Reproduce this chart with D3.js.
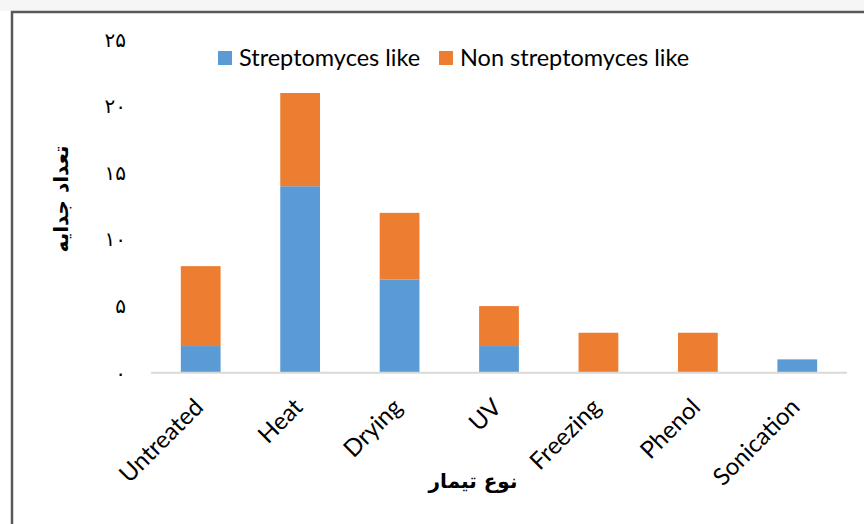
<!DOCTYPE html>
<html>
<head>
<meta charset="utf-8">
<script src="https://cdn.jsdelivr.net/npm/d3@7/dist/d3.min.js"></script>
<style>
  html, body { margin: 0; padding: 0; background: #fff; }
  svg { display: block; }
</style>
</head>
<body>
<svg id="chart" width="864" height="524"></svg>
<script>
// Treatments and isolate counts per group
const categories = ["Untreated", "Heat", "Drying", "UV", "Freezing", "Phenol", "Sonication"];
const streptomycesLike = [2, 14, 7, 2, 0, 0, 1];
const nonStreptomycesLike = [6, 7, 5, 3, 3, 3, 0];
const seriesNames = ["Streptomyces like", "Non streptomyces like"];
const seriesColors = ["#5b9bd5", "#ed7d31"];
const yTicks = [0, 5, 10, 15, 20, 25];
const yTickLabels = ["۰", "۵", "۱۰", "۱۵", "۲۰", "۲۵"];
const yTitle = "تعداد جدایه";
const xTitle = "نوع تیمار";

const svg = d3.select("#chart");
const W = 864, H = 524;
const latin = "Lato";

// faint strip above the frame
svg.append("rect").attr("x", 0).attr("y", 0).attr("width", W).attr("height", 11).attr("fill", "#f6f6f6");
// outer frame
svg.append("path")
  .attr("d", `M12,${H} L12,12 L${W},12`)
  .attr("fill", "none").attr("stroke", "#595959").attr("stroke-width", 2.5);

const margin = { left: 151, right: 17 };
const plotW = W - margin.left - margin.right;
const y0 = 372.7, yTop = 39.7;

const x = d3.scaleBand().domain(categories).range([margin.left, margin.left + plotW]).paddingInner(0.6).paddingOuter(0.3);
const y = d3.scaleLinear().domain([0, 25]).range([y0, yTop]);

const rows = categories.map((c, i) => ({ cat: c, s0: streptomycesLike[i], s1: nonStreptomycesLike[i] }));
const stacked = d3.stack().keys(["s0", "s1"])(rows);

svg.append("g").selectAll("g.series").data(stacked).join("g")
  .attr("class", "series")
  .attr("fill", (d, i) => seriesColors[i])
  .selectAll("rect").data(d => d).join("rect")
  .attr("x", d => x(d.data.cat))
  .attr("width", x.bandwidth())
  .attr("y", d => y(d[1]))
  .attr("height", d => y(d[0]) - y(d[1]));

// baseline
svg.append("line")
  .attr("x1", margin.left).attr("x2", margin.left + plotW)
  .attr("y1", y(0)).attr("y2", y(0))
  .attr("stroke", "#d9d9d9").attr("stroke-width", 2);

// y axis labels (Persian digits)
const yAxis = d3.axisLeft(y).tickValues(yTicks).tickSize(0).tickPadding(0)
  .tickFormat((d, i) => yTickLabels[i]);
const ya = svg.append("g").attr("transform", "translate(126,0)").call(yAxis);
ya.select(".domain").remove();
ya.selectAll("text").attr("font-family", "DejaVu Sans").attr("font-size", 20).attr("fill", "#000");

// x axis labels, rotated
const xAxis = d3.axisBottom(x).tickSize(0).tickPadding(0);
const xa = svg.append("g").attr("transform", `translate(0,${y0})`).call(xAxis);
xa.select(".domain").remove();
xa.selectAll("text")
  .attr("font-family", latin).attr("font-size", 24).attr("fill", "#000")
  .attr("text-anchor", "end")
  .attr("dy", "0.35em")
  .attr("transform", "translate(-2,30) rotate(-45)");

// axis titles
svg.append("text")
  .attr("transform", "translate(61,199) rotate(-90)")
  .attr("text-anchor", "middle").attr("dy", "0.35em")
  .attr("font-family", "DejaVu Sans").attr("font-weight", "bold").attr("font-size", 20)
  .attr("direction", "rtl")
  .text(yTitle);
svg.append("text")
  .attr("x", 473).attr("y", 488)
  .attr("text-anchor", "middle")
  .attr("font-family", "DejaVu Sans").attr("font-weight", "bold").attr("font-size", 20)
  .attr("direction", "rtl")
  .text(xTitle);

// legend
const legend = svg.append("g");
const legendItems = [{ x: 218, t: seriesNames[0], c: seriesColors[0] }, { x: 439, t: seriesNames[1], c: seriesColors[1] }];
legendItems.forEach(d => {
  legend.append("rect").attr("x", d.x).attr("y", 51).attr("width", 14).attr("height", 14).attr("fill", d.c);
  legend.append("text").attr("x", d.x + 21).attr("y", 66)
    .attr("font-family", latin).attr("font-size", 23.5).attr("fill", "#000").text(d.t);
});
</script>
</body>
</html>
